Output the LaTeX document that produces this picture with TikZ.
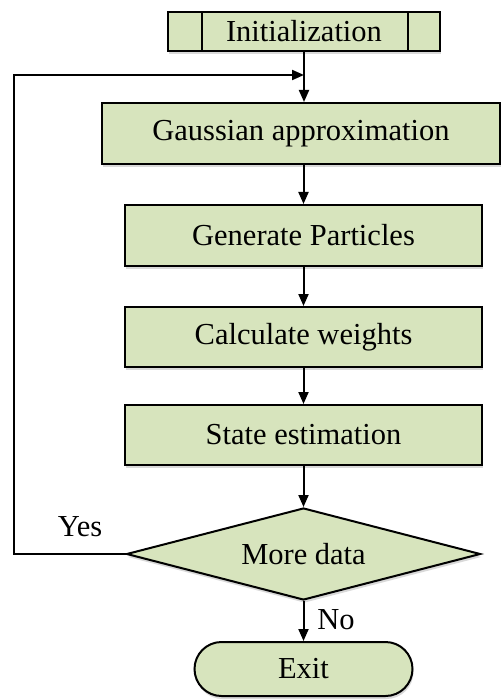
\documentclass[tikz,border=0pt]{standalone}
\usepackage{fontspec}
\setmainfont{Liberation Serif}
\usetikzlibrary{positioning,shapes.geometric,shapes.misc,arrows.meta,shadows,calc}

\definecolor{boxgreen}{HTML}{D7E4BD}

\tikzset{
  stepbox/.style={rectangle, draw=black, line width=2pt, fill=boxgreen,
    minimum width=357pt, minimum height=60pt, inner sep=0pt,
    font=\fontsize{30.5}{34}\selectfont,
    drop shadow={shadow xshift=1pt, shadow yshift=-3pt, opacity=0.3}},
  initbox/.style={stepbox, minimum width=272pt, minimum height=39pt,
    path picture={
      \draw[line width=2pt] ([xshift=34pt]path picture bounding box.north west)
        -- ([xshift=34pt]path picture bounding box.south west);
      \draw[line width=2pt] ([xshift=-32pt]path picture bounding box.north east)
        -- ([xshift=-32pt]path picture bounding box.south east);}},
  decision/.style={stepbox, diamond, aspect=3.77, minimum width=354pt, minimum height=92pt},
  terminal/.style={stepbox, rounded rectangle, minimum width=218pt, minimum height=54pt},
  flow/.style={line width=2pt, -{Triangle[width=10pt,length=12pt]}},
  tag/.style={font=\fontsize{30.5}{34}\selectfont}
}

\begin{document}
\begin{tikzpicture}[x=1pt, y=-1pt, node distance=39pt]
  \useasboundingbox (0,0) rectangle (502,700);
  \node[initbox] (init) at (304,31.5) {Initialization};
  \node[stepbox, minimum width=398pt, minimum height=61pt] (gauss) at (301,133.5) {Gaussian approximation};
  \node[stepbox, minimum height=61pt, below=of gauss, xshift=2.5pt] (gen) {Generate Particles};
  \node[stepbox, below=of gen] (calc) {Calculate weights};
  \node[stepbox, below=36pt of calc] (state) {State estimation};
  \node[decision, below=41pt of state] (more) {More data};
  \node[terminal, below=40pt of more] (exit) {Exit};
  \node[tag] (yes) at (80,527) {Yes};
  \node[tag] (no) at (336,620) {No};

  % loop back joins the first arrow here
  \coordinate (merge) at ($(init.south)!0.46!(init.south |- gauss.north)$);

  \draw[flow] (init) -- (init.south |- gauss.north);
  \draw[flow] (gen.north |- gauss.south) -- (gen);
  \draw[flow] (gen) -- (calc);
  \draw[flow] (calc) -- (state);
  \draw[flow] (state) -- (more);
  \draw[flow] (more) -- (exit);
  \draw[flow] (more.west) -- ++(-112,0) |- (merge);
\end{tikzpicture}
\end{document}
